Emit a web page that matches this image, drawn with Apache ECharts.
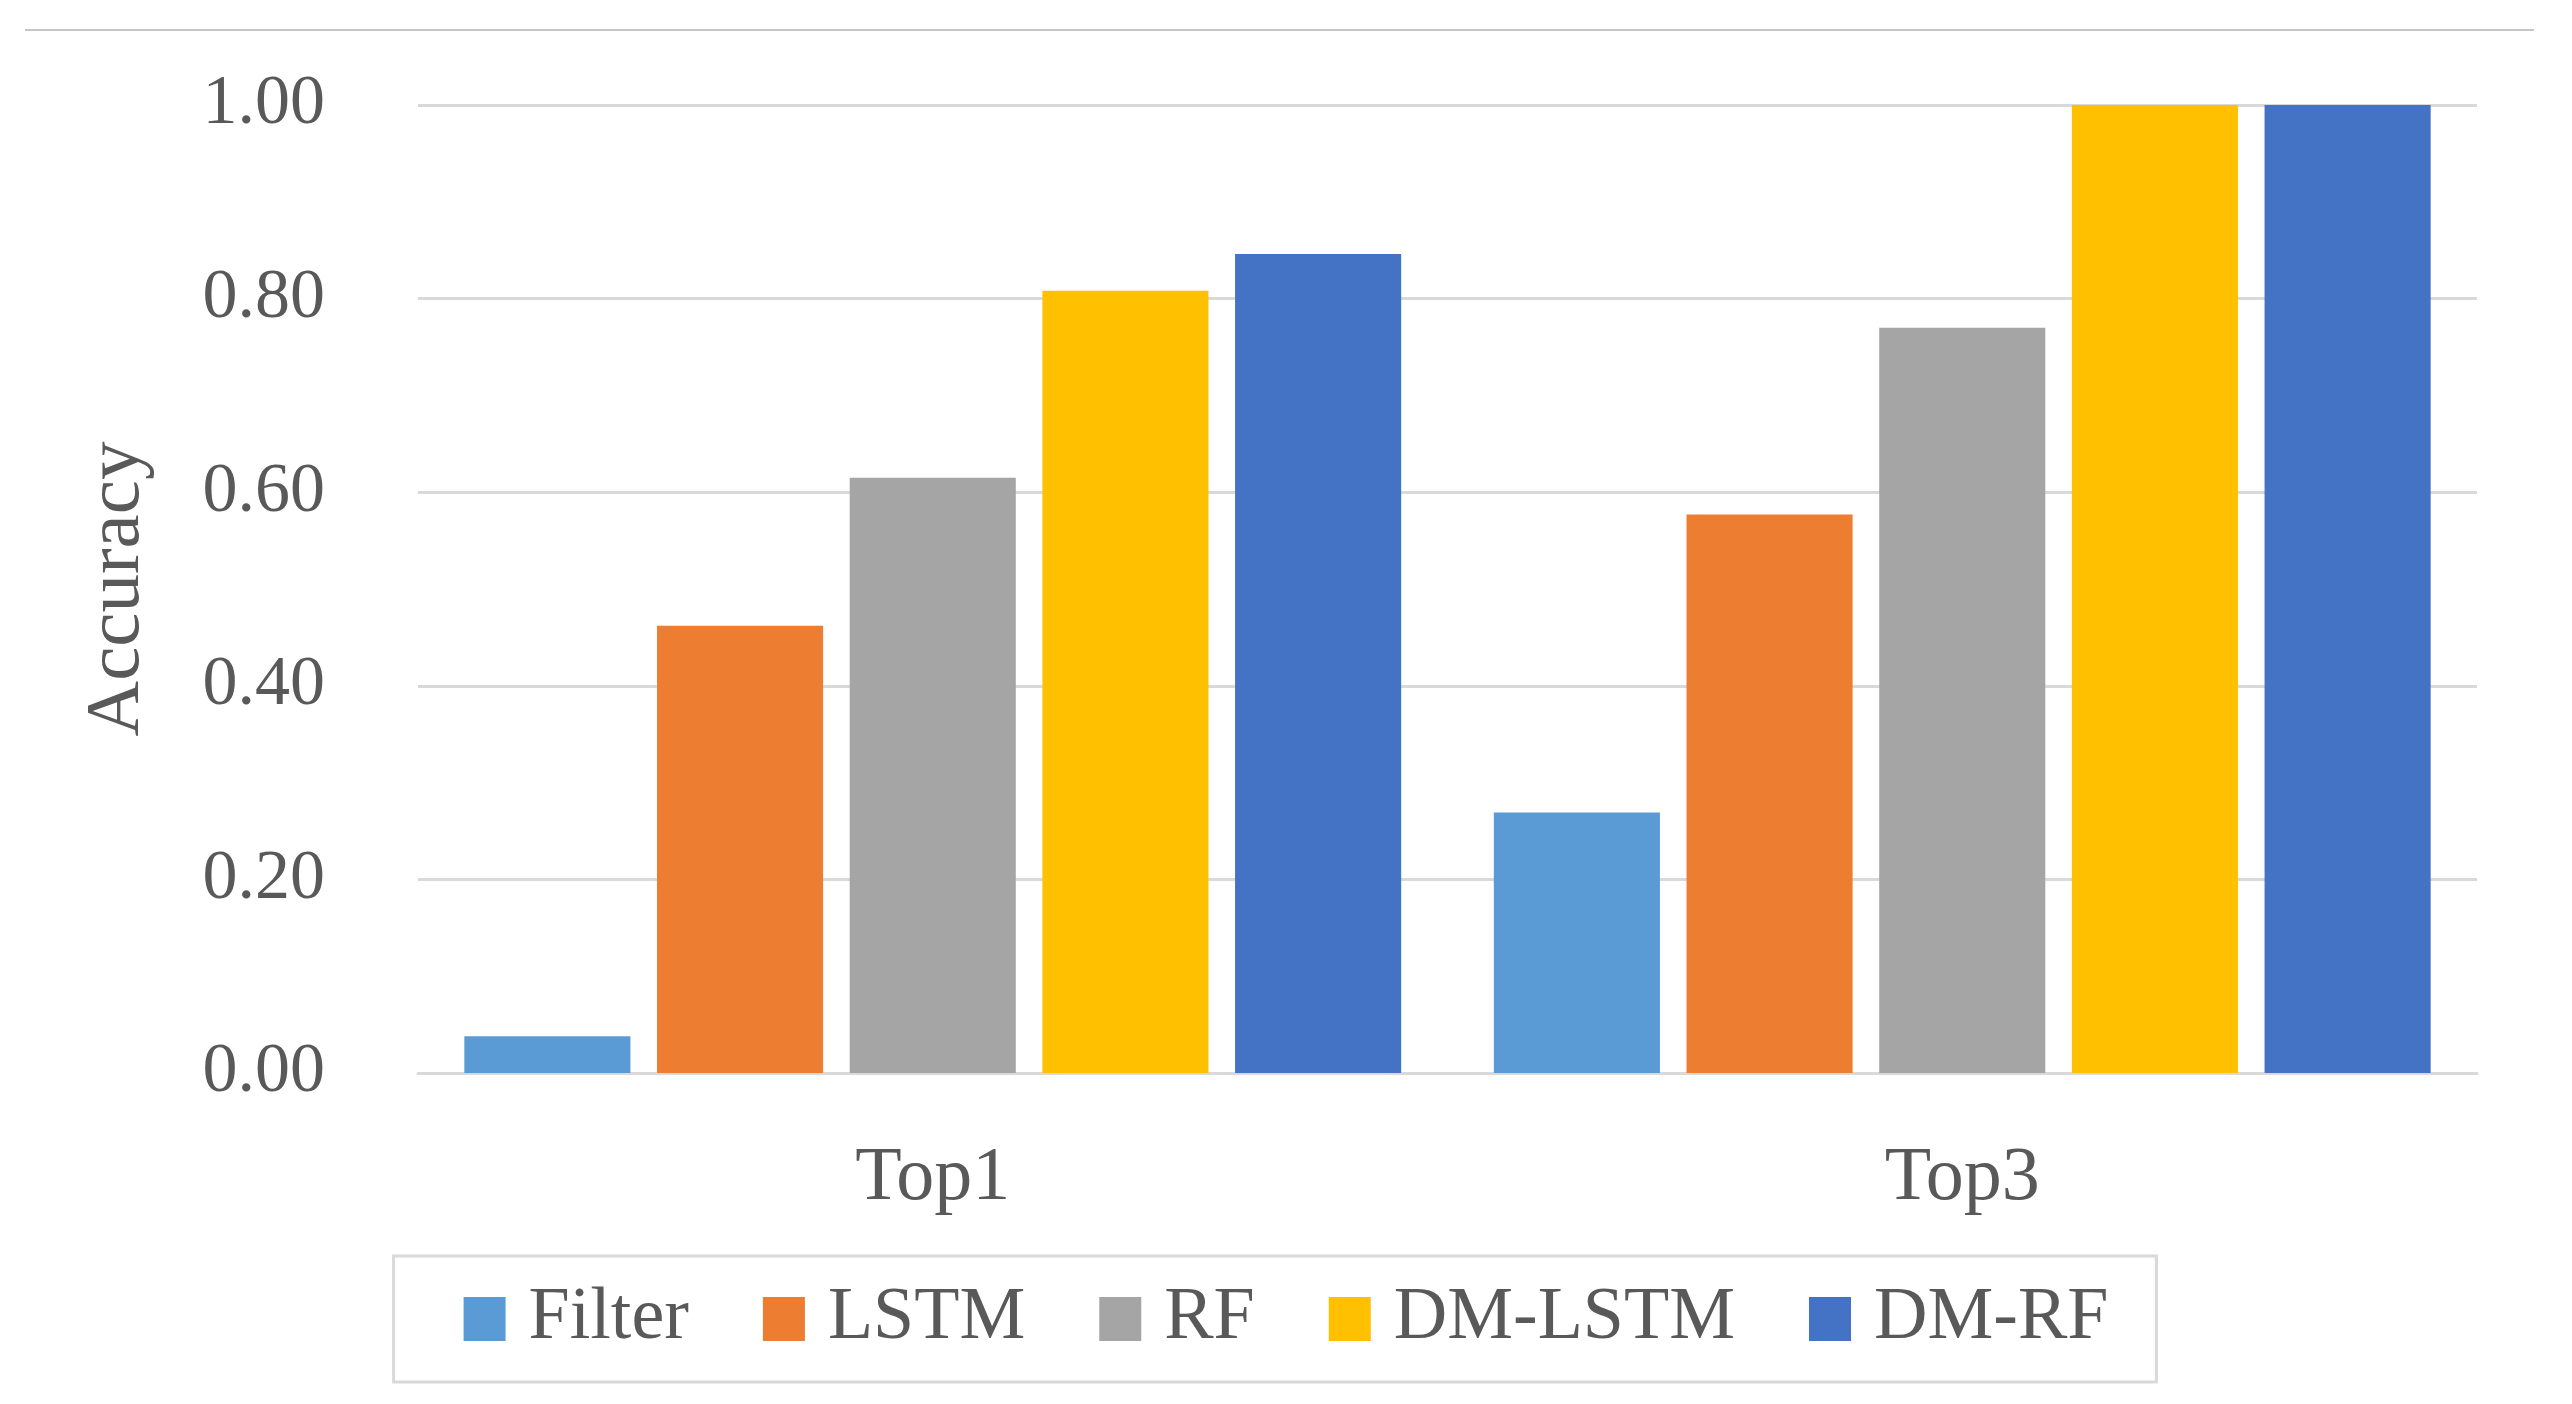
<!DOCTYPE html>
<html>
<head>
<meta charset="utf-8">
<script src="https://cdn.jsdelivr.net/npm/echarts@6/dist/echarts.min.js"></script>
<style>
html,body{margin:0;padding:0;background:#fff;}
#chart{width:2572px;height:1404px;}
</style>
</head>
<body>
<div id="chart"></div>
<script>
var categories = ['Top1', 'Top3'];
var seriesNames = ['Filter', 'LSTM', 'RF', 'DM-LSTM', 'DM-RF'];
var filterVals = [0.038, 0.269];
var lstmVals = [0.462, 0.577];
var rfVals = [0.615, 0.770];
var dmLstmVals = [0.808, 1.0];
var dmRfVals = [0.846, 1.0];
var yTicks = [0, 0.2, 0.4, 0.6, 0.8, 1.0];
var colors = ['#5B9BD5', '#ED7D31', '#A5A5A5', '#FFC000', '#4472C4'];

var allVals = [filterVals, lstmVals, rfVals, dmLstmVals, dmRfVals];
var FONT = 'Liberation Serif';
var TXT = '#595959';

var chart = echarts.init(document.getElementById('chart'), null, {renderer: 'canvas'});
var series = seriesNames.map(function (n, i) {
  return {
    name: n,
    type: 'bar',
    data: allVals[i],
    itemStyle: {color: colors[i]},
    barGap: '16%',
    barCategoryGap: '9%',
    animation: false
  };
});

chart.setOption({
  animation: false,
  backgroundColor: '#ffffff',
  color: colors,
  graphic: [{
    type: 'line',
    shape: {x1: 25, y1: 30, x2: 2534, y2: 30},
    style: {stroke: '#c6c6c6', lineWidth: 2}
  }],
  grid: {left: 418, right: 95, top: 105, bottom: 331, containLabel: false},
  legend: {
    data: seriesNames,
    left: 'center',
    top: 1256,
    itemWidth: 42,
    itemHeight: 44,
    itemGap: 74,
    padding: [26, 48, 26, 70],
    borderColor: '#d9d9d9',
    borderWidth: 3,
    icon: 'rect',
    textStyle: {fontFamily: FONT, fontSize: 74, color: TXT, padding: [0, 0, 0, 18]}
  },
  xAxis: {
    type: 'category',
    data: categories,
    axisLine: {lineStyle: {color: '#d9d9d9', width: 3}},
    axisTick: {show: false},
    axisLabel: {fontFamily: FONT, fontSize: 76, color: TXT, margin: 68}
  },
  yAxis: {
    type: 'value',
    min: yTicks[0],
    max: yTicks[yTicks.length - 1],
    interval: 0.2,
    name: 'Accuracy',
    nameLocation: 'middle',
    nameGap: 262,
    nameTextStyle: {fontFamily: FONT, fontSize: 77, color: TXT},
    axisLine: {show: false},
    axisTick: {show: false},
    splitLine: {lineStyle: {color: '#d9d9d9', width: 3}},
    axisLabel: {
      fontFamily: FONT, fontSize: 70, color: TXT, margin: 93,
      formatter: function (v) { return v.toFixed(2); }
    }
  },
  series: series
});
</script>
</body>
</html>
